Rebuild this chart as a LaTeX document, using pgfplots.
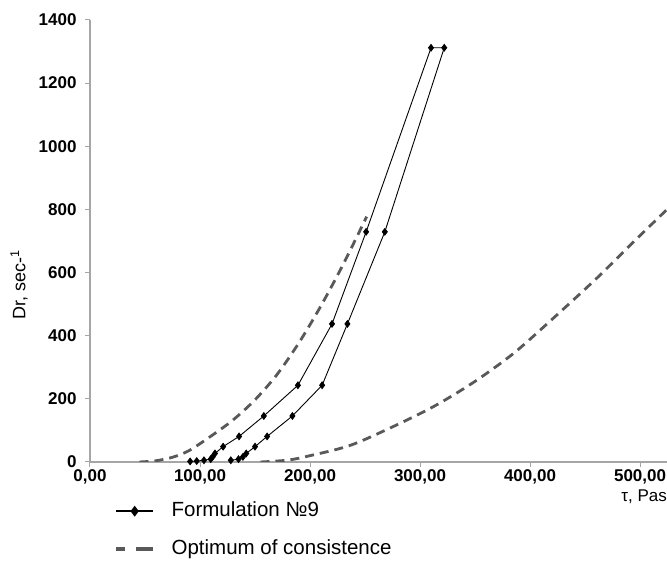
\documentclass[border=0pt]{standalone}
\usepackage{fontspec}
\setmainfont{Liberation Sans}
\usepackage{pgfplots}
\pgfplotsset{compat=1.18}
\definecolor{axisgray}{HTML}{A6A6A6}
\definecolor{dashgray}{HTML}{595959}

\begin{document}
\begin{tikzpicture}
\begin{axis}[
    scale only axis,
    width=577pt, height=442pt,
    xmin=0, xmax=524.5,
    ymin=0, ymax=1400,
    axis x line*=bottom, axis y line*=left,
    axis line style={axisgray, line width=1.1pt},
    tick style={axisgray, line width=1pt},
    tick align=outside,
    major tick length=5pt,
    xtick={0,100,...,500},
    ytick={0,200,...,1400},
    /pgf/number format/assume math mode=true,
    /pgf/number format/1000 sep={},
    xticklabel={\pgfmathprintnumber[fixed,fixed zerofill,precision=2,use comma]{\tick}},
    yticklabel={\pgfmathprintnumber{\tick}},
    ticklabel style={font=\bfseries\fontsize{17}{19}\selectfont},
    yticklabel style={xshift=-5pt},
    xticklabel style={yshift=1pt},
    xlabel={τ, Pas},
    every axis x label/.style={at={(axis description cs:0.915,-0.0905)}, anchor=base west, font=\fontsize{17}{19}\selectfont},
    ylabel={Dr, sec-\textsuperscript{1}},
    every axis y label/.style={at={(axis description cs:-0.123,0.40)}, rotate=90, anchor=center, font=\fontsize{18}{20}\selectfont},
    legend image code/.code={\draw[mark repeat=2,mark phase=2,#1] plot coordinates {(0pt,0pt) (18.25pt,0pt) (36.5pt,0pt)};},
    legend cell align=left,
    legend style={
        at={(axis description cs:0.0425,-0.0888)}, anchor=north west,
        draw=none, fill=none, inner sep=0pt,
        font=\fontsize{20.5}{23}\selectfont,
        nodes={inner sep=0pt, text height=15pt, text depth=4.5pt},
        row sep=18.5pt,
        /tikz/every odd column/.append style={column sep=17pt},
    },
]

% hysteresis loop, up branch then down branch
\addplot[black, line width=0.9pt, mark=diamond*, mark size=3.3pt,
    legend image post style={line width=1.8pt, mark size=4pt}] coordinates {
    (128,5.4) (135,9) (139,16.2) (142,27) (150,48.6) (161,81) (184,145.8)
    (211,243) (234,437.4) (268,729) (322,1312)
    (310,1312) (251,729) (220,437.4) (189,243) (158,145.8) (135.5,81)
    (121,48.6) (113.6,27) (111.5,16.2) (109.7,9) (103.6,5.4) (97,3) (91,1.8)
};
\addlegendentry{Formulation №9}

% optimum band, lower and upper limit
\addplot[dashgray, line width=2.8pt, dash pattern=on 9pt off 6pt, smooth,
    legend image post style={dash pattern=on 8pt off 11.5pt on 17pt off 10pt, line width=3.4pt}] coordinates {
    (45,0) (60,4) (75,15) (90,36) (110,82) (130,133) (150,197) (170,277)
    (190,378) (210,495) (230,625) (251.5,777)
};
\addlegendentry{Optimum of consistence}

\addplot[dashgray, line width=2.8pt, dash pattern=on 9pt off 6pt, smooth, forget plot] coordinates {
    (155,0) (180,6) (200,20) (236,52) (273,108) (312,175) (348.5,252)
    (385,344) (421,455) (460,580) (492,690) (524.5,800)
};

\end{axis}
\pgfresetboundingbox
\path[use as bounding box] (-90pt,-99pt) rectangle (577pt,462pt);
\end{tikzpicture}
\end{document}
